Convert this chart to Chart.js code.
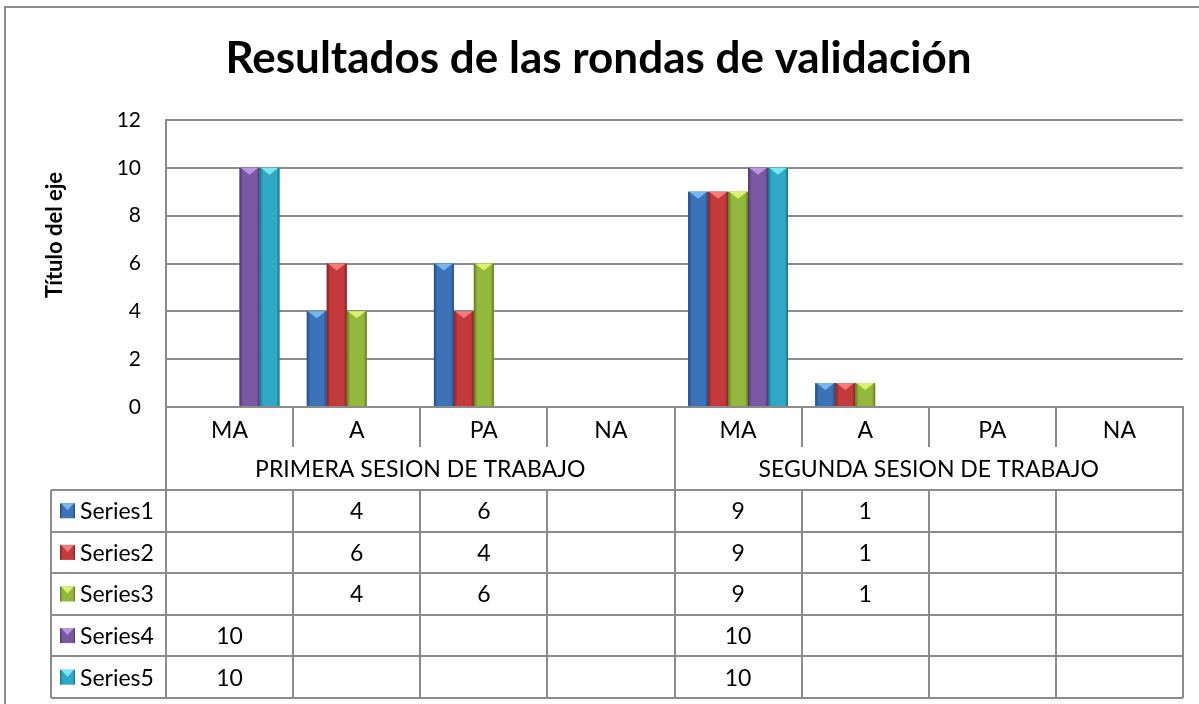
<!DOCTYPE html>
<html>
<head>
<meta charset="utf-8">
<script src="https://cdn.jsdelivr.net/npm/chart.js@4"></script>
<style>
  body { margin: 0; background: #fff; }
</style>
</head>
<body>
<canvas id="chart" width="1199" height="704"></canvas>
<script>
const categories = ['MA', 'A', 'PA', 'NA', 'MA', 'A', 'PA', 'NA'];
const groups = ['PRIMERA SESION DE TRABAJO', 'SEGUNDA SESION DE TRABAJO'];
const seriesNames = ['Series1', 'Series2', 'Series3', 'Series4', 'Series5'];
const series1 = [null, 4, 6, null, 9, 1, null, null];
const series2 = [null, 6, 4, null, 9, 1, null, null];
const series3 = [null, 4, 6, null, 9, 1, null, null];
const series4 = [10, null, null, null, 10, null, null, null];
const series5 = [10, null, null, null, 10, null, null, null];
const yTicks = [0, 2, 4, 6, 8, 10, 12];
const yTitle = 'Título del eje';

// body colour, dark edge, light bevel
const palette = [
  ['#3b72b8', '#244d82', '#79b6f0'],
  ['#c3393c', '#862427', '#f57b7b'],
  ['#93b83c', '#5f7a22', '#daf06e'],
  ['#7a58a2', '#4f3770', '#b996e2'],
  ['#2fa9c6', '#1a6f85', '#79e6f7']
];

const gridColor = '#8c8c8c';
const fontFamily = 'Lato, "Open Sans", sans-serif';
const rowTop = 490;
const rowH = 41.6;

function shadeFill(ctx, left, right, c) {
  const g = ctx.createLinearGradient(left, 0, right, 0);
  g.addColorStop(0, c[1]);
  g.addColorStop(0.18, c[0]);
  g.addColorStop(0.85, c[0]);
  g.addColorStop(1, c[1]);
  return g;
}

function drawBevelBox(ctx, left, top, w, h, c) {
  ctx.fillStyle = shadeFill(ctx, left, left + w, c);
  ctx.fillRect(left, top, w, h);
  ctx.fillStyle = c[2];
  ctx.beginPath();
  ctx.moveTo(left + 1, top);
  ctx.lineTo(left + w - 1, top);
  ctx.lineTo(left + w / 2, top + Math.min(7, h / 2));
  ctx.closePath();
  ctx.fill();
}

const barStyle = {
  id: 'barStyle',
  afterDatasetsDraw(chart) {
    const ctx = chart.ctx;
    ctx.save();
    chart.data.datasets.forEach((ds, i) => {
      const meta = chart.getDatasetMeta(i);
      meta.data.forEach((el, j) => {
        if (ds.data[j] == null) return;
        const p = el.getProps(['x', 'y', 'base', 'width'], true);
        drawBevelBox(ctx, p.x - p.width / 2, p.y, p.width, p.base - p.y, palette[i]);
      });
    });
    ctx.restore();
  }
};

const dataTable = {
  id: 'dataTable',
  beforeDraw(chart) {
    const ctx = chart.ctx;
    ctx.save();
    ctx.strokeStyle = gridColor;
    ctx.lineWidth = 2;
    ctx.strokeRect(5, 7, 1210, 720);
    ctx.restore();
  },
  afterDraw(chart) {
    const ctx = chart.ctx;
    const x = chart.scales.x;
    const area = chart.chartArea;
    const n = categories.length;
    const step = (area.right - area.left) / n;
    const edge = i => area.left + i * step;
    const tableLeft = 51;
    const bottom = rowTop + rowH * seriesNames.length;

    ctx.save();
    ctx.strokeStyle = gridColor;
    ctx.lineWidth = 2;
    ctx.beginPath();
    for (let r = 0; r <= seriesNames.length; r++) {
      const y = Math.round(rowTop + r * rowH);
      ctx.moveTo(tableLeft, y);
      ctx.lineTo(area.right, y);
    }
    ctx.moveTo(tableLeft, rowTop);
    ctx.lineTo(tableLeft, bottom);
    for (let i = 0; i <= n; i++) {
      const xx = Math.round(edge(i));
      if (i === 0 || i === n || i === n / 2) {
        ctx.moveTo(xx, area.bottom);
        ctx.lineTo(xx, bottom);
      } else {
        ctx.moveTo(xx, area.bottom);
        ctx.lineTo(xx, area.bottom + 40);
        ctx.moveTo(xx, rowTop);
        ctx.lineTo(xx, bottom);
      }
    }
    ctx.stroke();

    // axis title, Excel puts it a bit above the middle
    ctx.fillStyle = '#000';
    ctx.save();
    ctx.translate(55, 235);
    ctx.rotate(-Math.PI / 2);
    ctx.textAlign = 'center';
    ctx.textBaseline = 'middle';
    ctx.font = 'bold 22px ' + fontFamily;
    ctx.fillText(yTitle, 0, 0);
    ctx.restore();

    ctx.textAlign = 'center';
    ctx.textBaseline = 'middle';
    ctx.font = '23px ' + fontFamily;
    groups.forEach((g, gi) => {
      const cx = (edge(gi * n / 2) + edge((gi + 1) * n / 2)) / 2;
      ctx.fillText(g, cx, 470);
    });
    chart.data.datasets.forEach((ds, i) => {
      const cy = rowTop + (i + 0.5) * rowH;
      drawBevelBox(ctx, 60, cy - 7.5, 15, 15, palette[i]);
      ctx.fillStyle = '#000';
      ctx.textAlign = 'left';
      ctx.fillText(ds.label, 80, cy + 1);
      ctx.textAlign = 'center';
      ds.data.forEach((v, j) => {
        if (v == null) return;
        ctx.fillText(String(v), x.getPixelForValue(j), cy + 1);
      });
    });
    ctx.restore();
  }
};

const allSeries = [series1, series2, series3, series4, series5];

new Chart(document.getElementById('chart'), {
  type: 'bar',
  data: {
    labels: categories,
    datasets: allSeries.map((d, i) => ({
      label: seriesNames[i],
      data: d,
      backgroundColor: palette[i][0],
      borderWidth: 0
    }))
  },
  options: {
    responsive: false,
    animation: false,
    layout: { padding: { left: 14, right: 16, top: 0, bottom: 0 } },
    categoryPercentage: 0.785,
    barPercentage: 1,
    plugins: {
      legend: { display: false },
      tooltip: { enabled: false },
      title: {
        display: true,
        text: 'Resultados de las rondas de validación',
        color: '#000',
        font: { family: fontFamily, size: 44, weight: 'bold' },
        padding: { top: 32, bottom: 35.2 }
      }
    },
    scales: {
      x: {
        grid: { display: false, drawTicks: false },
        border: { color: gridColor, width: 2 },
        ticks: { color: '#000', font: { family: fontFamily, size: 23 }, padding: 10 },
        afterFit: s => { s.height = 297; }
      },
      y: {
        min: 0,
        max: 12,
        afterBuildTicks: s => { s.ticks = yTicks.map(v => ({ value: v })); },
        grid: { color: gridColor, lineWidth: 2, drawTicks: false },
        border: { color: gridColor, width: 2 },
        ticks: { color: '#000', font: { family: fontFamily, size: 21 }, padding: 25 },
        afterFit: s => { s.width = 152; }
      }
    }
  },
  plugins: [barStyle, dataTable]
});
</script>
</body>
</html>
